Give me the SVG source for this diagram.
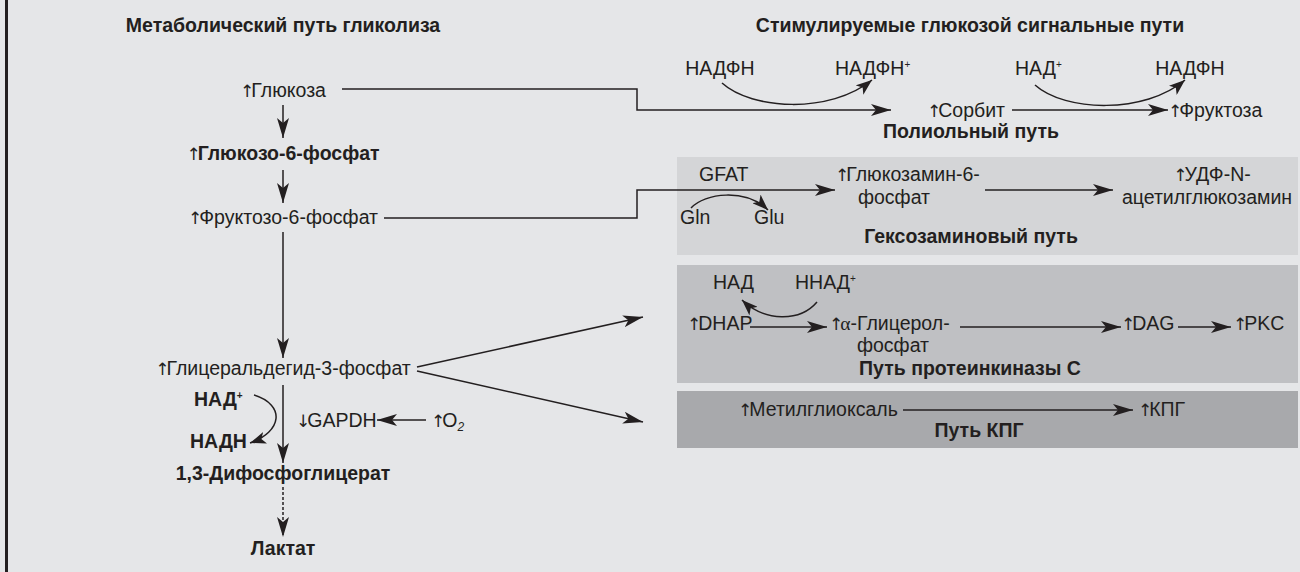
<svg xmlns="http://www.w3.org/2000/svg" width="1300" height="572" viewBox="0 0 1300 572">
<defs>
<style>
text{font-family:"Liberation Sans","DejaVu Sans",sans-serif;font-size:19.5px;fill:#231f20}
.b{font-weight:bold}
.m{text-anchor:middle}
.sup{font-size:10px}
.ar{font-family:"DejaVu Sans",sans-serif;font-size:17px;font-weight:normal;letter-spacing:-3px}
.ln{fill:none;stroke:#231f20;stroke-width:1.5}
.box1{fill:#d4d5d7}
.box2{fill:#bfc0c3}
.box3{fill:#a8a9ac}
</style>
<marker id="ah" markerUnits="userSpaceOnUse" markerWidth="22" markerHeight="12" refX="20" refY="6" orient="auto">
<path d="M0,0 L20,6 L0,12 L5,6 Z" fill="#231f20"/>
</marker>
<marker id="as" markerUnits="userSpaceOnUse" markerWidth="18" markerHeight="12" refX="16" refY="6" orient="auto">
<path d="M0,0 L16,6 L0,12 L4,6 Z" fill="#231f20"/>
</marker>
</defs>
<rect x="0" y="0" width="1300" height="572" fill="#e5e6e8"/>
<rect x="5" y="0" width="3" height="572" fill="#231f20"/>

<g id="boxes">
<rect class="box1" x="677" y="157" width="621" height="98"/>
<rect class="box2" x="677" y="265" width="621" height="118"/>
<rect class="box3" x="677" y="391" width="621" height="57"/>
</g>

<g id="titles">
<text class="b m" x="283" y="32">Метаболический путь гликолиза</text>
<text class="b m" x="970" y="32">Стимулируемые глюкозой сигнальные пути</text>
</g>

<g id="connectors">
<polyline class="ln" points="342,89 637,89 637,110 891,110" marker-end="url(#ah)"/>
<line class="ln" x1="283" y1="105" x2="283" y2="138" marker-end="url(#ah)"/>
<line class="ln" x1="283" y1="170" x2="283" y2="203" marker-end="url(#ah)"/>
<polyline class="ln" points="384,218 637,218 637,190 835,190" marker-end="url(#ah)"/>
<line class="ln" x1="283" y1="232" x2="283" y2="358" marker-end="url(#ah)"/>
<line class="ln" x1="417" y1="367" x2="643" y2="317" marker-end="url(#ah)"/>
<line class="ln" x1="417" y1="371" x2="643" y2="422" marker-end="url(#ah)"/>
<line class="ln" x1="283" y1="385" x2="283" y2="463" marker-end="url(#ah)"/>
<line class="ln" x1="283" y1="487" x2="283" y2="537" stroke-dasharray="3,2" marker-end="url(#ah)"/>
<line class="ln" x1="426" y1="420" x2="377" y2="420" marker-end="url(#ah)"/>
<path class="ln" d="M254,395 C286,405 282,432 250,443" marker-end="url(#as)"/>
<line class="ln" x1="1012" y1="110" x2="1168" y2="110" marker-end="url(#ah)"/>
<path class="ln" d="M722,83 C752,110 830,114 872,80" marker-end="url(#as)"/>
<path class="ln" d="M1035,85 C1065,112 1145,114 1185,80" marker-end="url(#as)"/>
<line class="ln" x1="985" y1="190" x2="1113" y2="190" marker-end="url(#ah)"/>
<path class="ln" d="M691,208 C705,193 745,188 768,210" marker-end="url(#as)"/>
<line class="ln" x1="750" y1="327" x2="827" y2="327" marker-end="url(#ah)"/>
<line class="ln" x1="960" y1="327" x2="1121" y2="327" marker-end="url(#ah)"/>
<line class="ln" x1="1178" y1="327" x2="1231" y2="327" marker-end="url(#ah)"/>
<path class="ln" d="M817,302 C800,322 765,322 742,300" marker-end="url(#as)"/>
<line class="ln" x1="903" y1="410" x2="1133" y2="410" marker-end="url(#ah)"/>
</g>

<g id="n-glucose"><text class="m" x="283" y="97"><tspan class="ar">↑</tspan>Глюкоза</text></g>
<g id="n-g6p"><text class="b m" x="283" y="160"><tspan class="ar">↑</tspan>Глюкозо-6-фосфат</text></g>
<g id="n-f6p"><text class="m" x="283" y="224"><tspan class="ar">↑</tspan>Фруктозо-6-фосфат</text></g>
<g id="n-gap"><text class="m" x="283" y="375"><tspan class="ar">↑</tspan>Глицеральдегид-3-фосфат</text></g>
<g id="n-nad"><text class="b" x="194" y="406">НАД<tspan class="sup" dy="-7">+</tspan></text></g>
<g id="n-nadh"><text class="b" x="190" y="448">НАДН</text></g>
<g id="n-gapdh"><text x="296" y="427"><tspan class="ar">↓</tspan>GAPDH</text></g>
<g id="n-o2"><text x="431" y="427"><tspan class="ar">↑</tspan>O<tspan font-size="12" font-style="italic" dy="4">2</tspan></text></g>
<g id="n-dpg"><text class="b m" x="283" y="480">1,3-Дифосфоглицерат</text></g>
<g id="n-lactate"><text class="b m" x="283" y="555">Лактат</text></g>

<g id="n-polyol">
<text class="m" x="720" y="75">НАДФН</text>
<text x="835" y="75">НАДФН<tspan class="sup" dy="-7">+</tspan></text>
<text x="1015" y="75">НАД<tspan class="sup" dy="-7">+</tspan></text>
<text class="m" x="1190" y="75">НАДФН</text>
<text x="927" y="117"><tspan class="ar">↑</tspan>Сорбит</text>
<text x="1168" y="117"><tspan class="ar">↑</tspan>Фруктоза</text>
<text class="b m" x="971" y="138">Полиольный путь</text>
</g>

<g id="n-hexosamine">
<text x="699" y="181">GFAT</text>
<text x="835" y="181"><tspan class="ar">↑</tspan>Глюкозамин-6-</text>
<text class="m" x="894" y="204">фосфат</text>
<text class="m" x="1212" y="181"><tspan class="ar">↑</tspan>УДФ-N-</text>
<text class="m" x="1207" y="204">ацетилглюкозамин</text>
<text x="680" y="224">Gln</text>
<text x="754" y="224">Glu</text>
<text class="b m" x="971" y="243">Гексозаминовый путь</text>
</g>

<g id="n-pkc">
<text x="713" y="289">НАД</text>
<text x="795" y="289">ННАД<tspan class="sup" dy="-7">+</tspan></text>
<text x="687" y="330"><tspan class="ar">↑</tspan>DHAP</text>
<text x="829" y="330"><tspan class="ar">↑</tspan><tspan font-family="Liberation Serif">α</tspan>-Глицерол-</text>
<text class="m" x="893" y="352">фосфат</text>
<text x="1121" y="330"><tspan class="ar">↑</tspan>DAG</text>
<text x="1233" y="330"><tspan class="ar">↑</tspan>PKC</text>
<text class="b m" x="970" y="375">Путь протеинкиназы С</text>
</g>

<g id="n-age">
<text x="738" y="416"><tspan class="ar">↑</tspan>Метилглиоксаль</text>
<text x="1138" y="416"><tspan class="ar">↑</tspan>КПГ</text>
<text class="b m" x="979" y="437">Путь КПГ</text>
</g>
</svg>
